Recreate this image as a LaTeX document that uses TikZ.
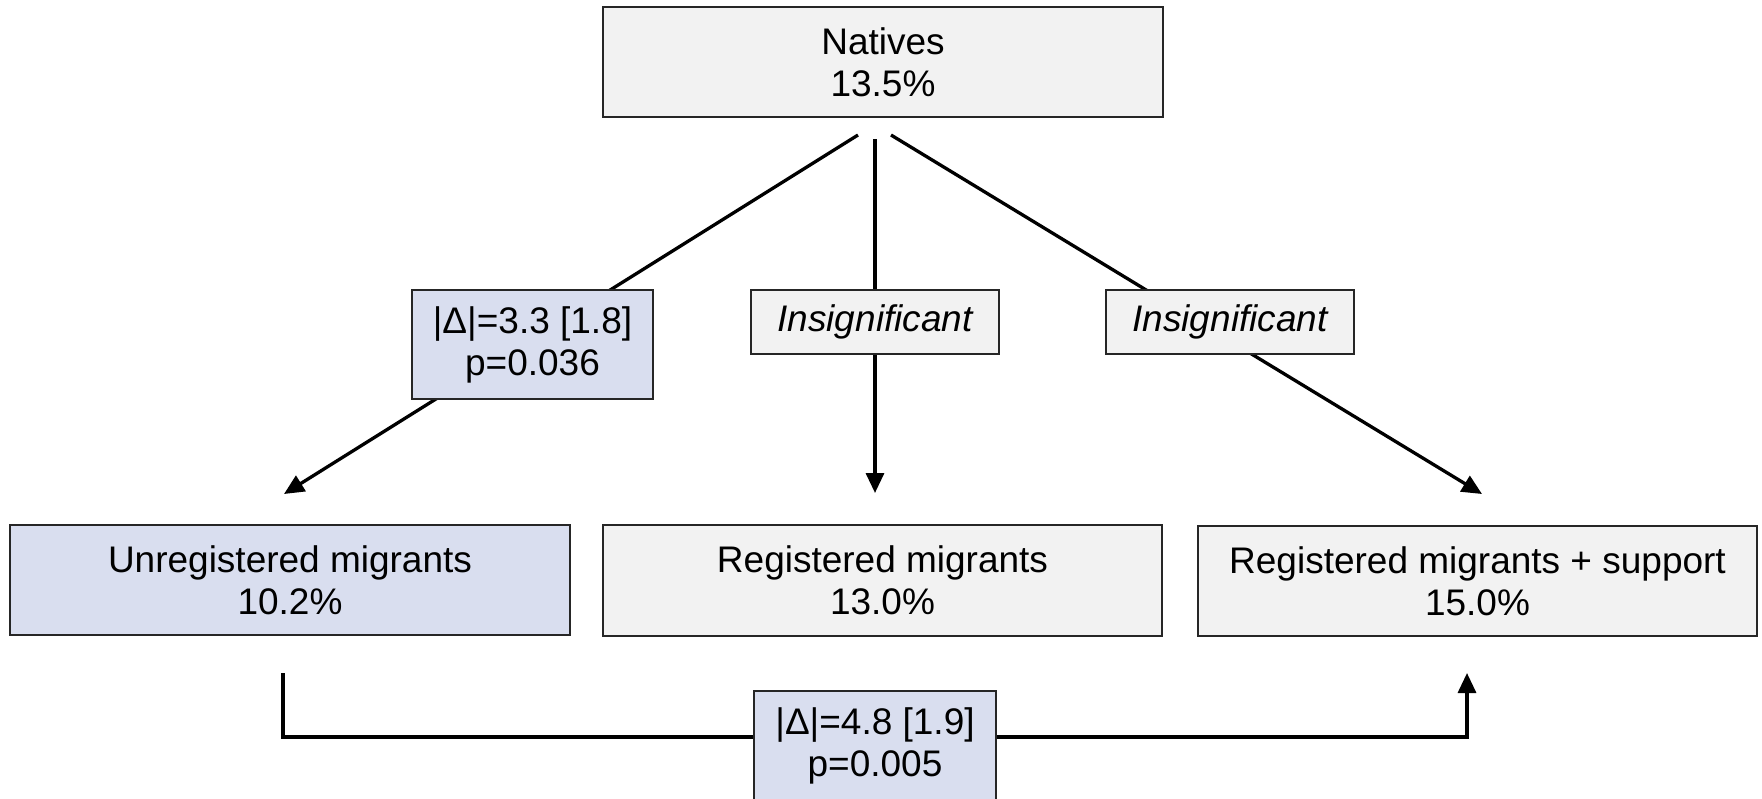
\documentclass[tikz,border=0pt]{standalone}
\usepackage{fontspec}
\setmainfont{Liberation Sans}
\usetikzlibrary{arrows.meta,shadows}
\definecolor{boxgray}{HTML}{F2F2F2}
\definecolor{boxblue}{HTML}{D9DEEF}
\begin{document}
\begin{tikzpicture}[x=0.5pt,y=-0.5pt,
  box/.style={draw=black!85, line width=0.9pt, fill=boxgray, align=center, inner sep=0pt,
    font=\fontsize{18.5}{21}\selectfont,
    drop shadow={shadow xshift=0.7pt, shadow yshift=-0.7pt, fill=black!40, opacity=0.6}},
  bluebox/.style={box, fill=boxblue},
  conn/.style={line width=1.65pt, draw=black},
  arr/.style={conn, -{Triangle[length=10pt,width=9pt]}}]
\useasboundingbox (0,0) rectangle (1762,798);
\clip (0,0) rectangle (1762,798);
% connector end points
\coordinate (nL) at (858,135);
\coordinate (nM) at (875,139);
\coordinate (nR) at (891,135);
\coordinate (tL) at (284,494);
\coordinate (tM) at (875,493);
\coordinate (tR) at (1482,494);
\coordinate (bL) at (283,673);
\coordinate (bLc) at (283,737);
\coordinate (bRc) at (1467,737);
\coordinate (bR) at (1467,673);
% connectors
\draw[arr] (nL) -- (tL);
\draw[arr] (nM) -- (tM);
\draw[arr] (nR) -- (tR);
\draw[arr] (bL) -- (bLc) -- (bRc) -- (bR);
% nodes
\node[box, minimum width=280pt, minimum height=55pt] (nat) at (883,62) {Natives\\13.5\%};
\node[bluebox, minimum width=120.5pt, minimum height=54.5pt] (d1) at (532.5,344.5) {|Δ|=3.3 [1.8]\\p=0.036};
\node[box, minimum width=124pt, minimum height=32pt] (i1) at (875,322) {\itshape Insignificant};
\node[box, minimum width=124pt, minimum height=32pt] (i2) at (1230,322) {\itshape Insignificant};
\node[bluebox, minimum width=280pt, minimum height=55pt] (b1) at (290,580) {Unregistered migrants\\10.2\%};
\node[box, minimum width=279.5pt, minimum height=55.5pt] (b2) at (882.5,580.5) {Registered migrants\\13.0\%};
\node[box, minimum width=279.5pt, minimum height=55pt] (b3) at (1477.5,581) {Registered migrants + support\\15.0\%};
\node[bluebox, minimum width=121pt, minimum height=54.5pt] (d2) at (875,745.5) {|Δ|=4.8 [1.9]\\p=0.005};
\end{tikzpicture}
\end{document}
